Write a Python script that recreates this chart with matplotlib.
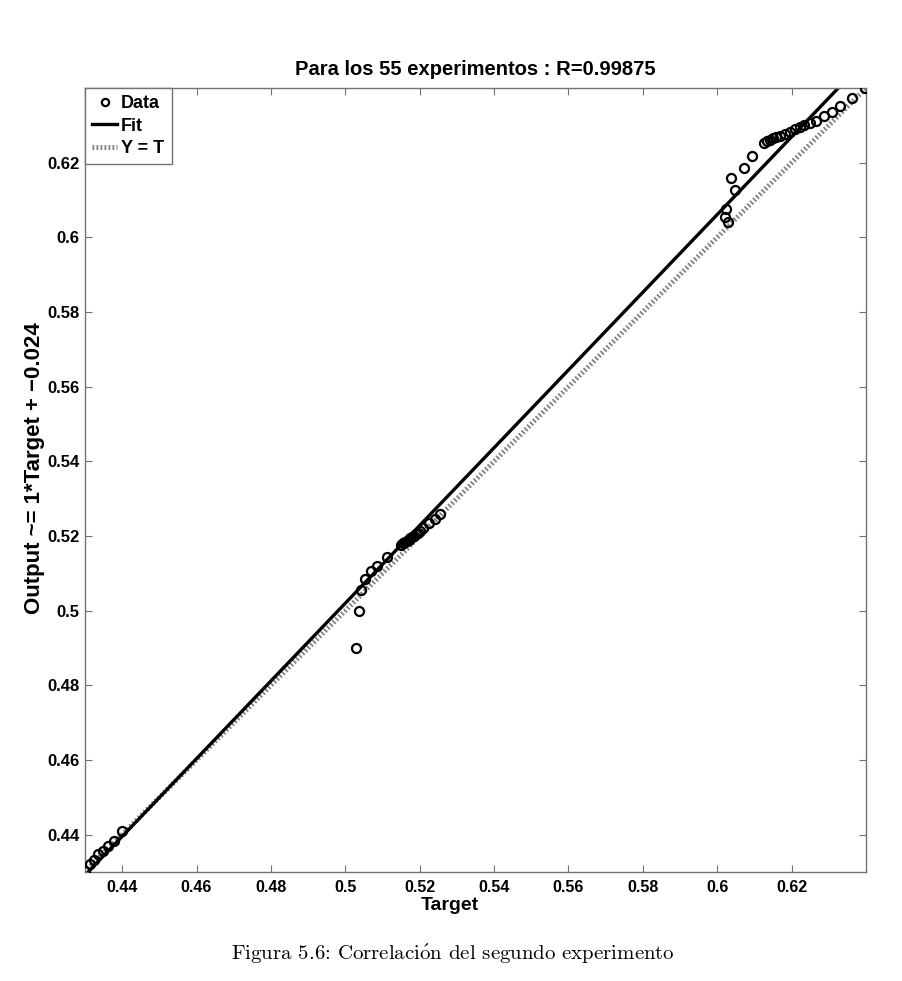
import numpy as np
import matplotlib
matplotlib.use('Agg')
from matplotlib import pyplot as plt

target_low = [0.4300, 0.4314, 0.4324, 0.4335, 0.4349, 0.4362, 0.4377, 0.4399]
output_low = [0.4302, 0.4322, 0.4333, 0.4347, 0.4357, 0.4370, 0.4382, 0.4409]

target_mid = [0.5029, 0.5036, 0.5043, 0.5054, 0.5070, 0.5085, 0.5113,
              0.5151, 0.5156, 0.5160, 0.5166, 0.5170, 0.5175, 0.5180, 0.5185,
              0.5190, 0.5195, 0.5200, 0.5209, 0.5225, 0.5241, 0.5254]
output_mid = [0.4900, 0.5000, 0.5056, 0.5085, 0.5105, 0.5120, 0.5145,
              0.5177, 0.5180, 0.5184, 0.5187, 0.5190, 0.5194, 0.5198, 0.5201,
              0.5205, 0.5209, 0.5213, 0.5222, 0.5235, 0.5246, 0.5260]

target_high = [0.6029, 0.6022, 0.6024, 0.6047, 0.6038, 0.6071, 0.6094,
               0.6127, 0.6135, 0.6141, 0.6150, 0.6159, 0.6168, 0.6181, 0.6195,
               0.6208, 0.6222, 0.6234, 0.6249, 0.6265, 0.6286, 0.6308, 0.6329,
               0.6362, 0.6398]
output_high = [0.6040, 0.6055, 0.6076, 0.6127, 0.6158, 0.6185, 0.6219,
               0.6254, 0.6258, 0.6262, 0.6265, 0.6269, 0.6272, 0.6278, 0.6283,
               0.6291, 0.6296, 0.6301, 0.6305, 0.6312, 0.6325, 0.6337, 0.6353,
               0.6374, 0.6400]

# fitted line as drawn in the picture
fit_slope = 1.041
fit_intercept = -0.0185

title_text = 'Para los 55 experimentos : R=0.99875'
ylabel_text = 'Output ~= 1*Target + \u22120.024'
caption_text = 'Figura 5.6: Correlaci$\\mathrm{\\acute{o}}$n del segundo experimento'

ticks = [0.44, 0.46, 0.48, 0.5, 0.52, 0.54, 0.56, 0.58, 0.6, 0.62]
tick_labels = ['0.44', '0.46', '0.48', '0.5', '0.52', '0.54', '0.56', '0.58', '0.6', '0.62']

targets = np.array(target_low + target_mid + target_high)
outputs = np.array(output_low + output_mid + output_high)

lo = min(targets.min(), outputs.min())
hi = max(targets.max(), outputs.max())

plt.rcParams['font.family'] = ['Liberation Sans', 'DejaVu Sans']
plt.rcParams['font.weight'] = 'bold'
plt.rcParams['mathtext.fontset'] = 'cm'

fig = plt.figure(figsize=(9.03, 9.81), dpi=100)
ax = fig.add_axes([0.0941, 0.1111, 0.8649, 0.7992])

line_x = np.array([lo, hi])
ax.plot(line_x, line_x, linestyle=(0, (0.35, 0.45)), color='0.5', linewidth=3.6,
        label='Y = T', zorder=1)
ax.plot(line_x, fit_slope * line_x + fit_intercept, color='black', linewidth=2.4,
        label='Fit', zorder=2)
ax.plot(targets, outputs, linestyle='none', marker='o', markersize=6.5,
        markerfacecolor='none', markeredgecolor='black', markeredgewidth=1.6,
        label='Data', zorder=3)

ax.set_xlim(lo, hi)
ax.set_ylim(lo, hi)
ax.set_xticks(ticks)
ax.set_xticklabels(tick_labels)
ax.set_yticks(ticks)
ax.set_yticklabels(tick_labels)
ax.tick_params(direction='in', top=True, right=True, length=5, width=0.8,
               color='0.45', pad=6)
ax.tick_params(axis='x', labelsize=11.5)
ax.tick_params(axis='y', labelsize=12, pad=4)
for spine in ax.spines.values():
  spine.set_color('0.45')
  spine.set_linewidth(1.0)

ax.set_title(title_text, fontsize=14.5, fontweight='bold', pad=9)
ax.set_xlabel('Target', fontsize=14, fontweight='bold')
ax.xaxis.set_label_coords(0.467, -0.032)
ax.set_ylabel(ylabel_text, fontsize=16, fontweight='bold')
ax.yaxis.set_label_coords(-0.051, 0.515)

handles, labels = ax.get_legend_handles_labels()
order = [2, 1, 0]
leg = ax.legend([handles[i] for i in order], [labels[i] for i in order],
                loc='upper left', borderaxespad=0, fancybox=False, framealpha=1,
                edgecolor='0.45', handlelength=1.4, handletextpad=0.2,
                borderpad=0.4, labelspacing=0.3, markerscale=0.8,
                prop={'weight': 'bold', 'size': 13})

fig.text(0.502, 0.027, caption_text, ha='center', va='center', fontsize=15,
         fontweight='normal', family=['cmr10', 'DejaVu Serif'])

fig.savefig('out.png', dpi=100, facecolor='white')
